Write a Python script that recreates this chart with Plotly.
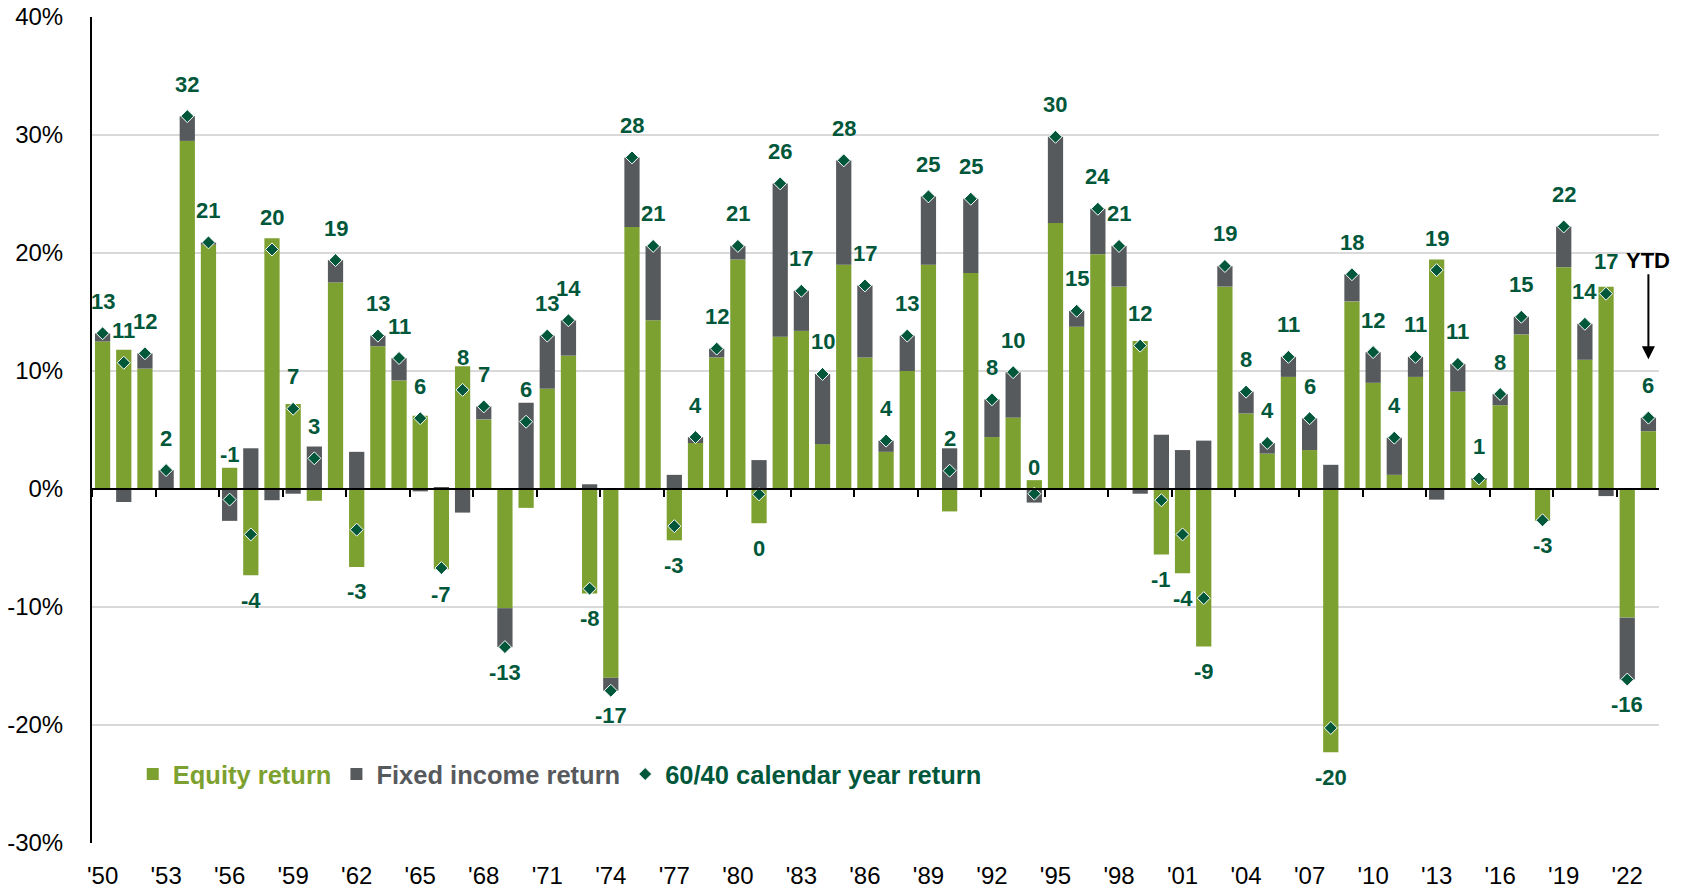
import plotly.graph_objects as go

# ---------------- data ----------------
years = list(range(1950, 2024))

equity_contrib = [
    12.5, 11.8, 10.2, 0.0, 29.5, 20.7, 1.8, -7.3, 21.25, 7.2,
    -1.0, 17.5, -6.6, 12.1, 9.2, 6.2, -6.8, 10.4, 5.9, -10.1,
    -1.6, 8.5, 11.3, -8.85, -16.0, 22.2, 14.3, -4.35, 3.9, 11.15,
    19.45, -2.9, 12.9, 13.4, 3.8, 19.0, 11.15, 3.15, 10.0, 19.0,
    -1.9, 18.3, 4.4, 6.05, 0.75, 22.55, 13.75, 19.9, 17.15, 12.55,
    -5.55, -7.15, -13.35, 17.15, 6.4, 3.0, 9.5, 3.3, -22.3, 15.9,
    9.0, 1.2, 9.5, 19.45, 8.25, 0.8, 7.1, 13.1, -2.7, 18.8,
    10.95, 17.15, -10.9, 4.9,
]

fixed_income_contrib = [
    0.7, -1.1, 1.3, 1.6, 2.1, 0.2, -2.7, 3.45, -0.95, -0.4,
    3.6, 1.9, 3.15, 0.9, 1.9, -0.2, 0.1, -2.0, 1.1, -3.3,
    7.3, 4.5, 3.0, 0.4, -1.1, 5.9, 6.3, 1.2, 0.5, 0.75,
    1.15, 2.45, 13.0, 3.4, 5.95, 8.85, 6.1, 0.95, 3.0, 5.8,
    3.45, 6.3, 3.2, 3.85, -1.15, 7.3, 1.35, 3.85, 3.45, -0.4,
    4.6, 3.3, 4.1, 1.75, 1.85, 0.9, 1.7, 2.7, 2.05, 2.3,
    2.6, 3.15, 1.7, -0.9, 2.35, 0.1, 0.95, 1.5, 0.05, 3.45,
    3.05, -0.6, -5.25, 1.15,
]

portfolio_6040 = [
    13.2, 10.7, 11.5, 1.6, 31.6, 20.9, -0.9, -3.85, 20.3, 6.8,
    2.6, 19.4, -3.45, 13.0, 11.1, 6.0, -6.7, 8.4, 7.0, -13.4,
    5.7, 13.0, 14.3, -8.45, -17.1, 28.1, 20.6, -3.15, 4.4, 11.9,
    20.6, -0.45, 25.9, 16.8, 9.75, 27.85, 17.25, 4.1, 13.0, 24.8,
    1.55, 24.6, 7.6, 9.9, -0.4, 29.85, 15.1, 23.75, 20.6, 12.15,
    -0.95, -3.85, -9.25, 18.9, 8.25, 3.9, 11.2, 6.0, -20.25, 18.2,
    11.6, 4.35, 11.2, 18.55, 10.6, 0.9, 8.05, 14.6, -2.65, 22.25,
    14.0, 16.55, -16.15, 6.05,
]

tick_years = years[:-1:3]                      # 1950, 1953, ... 2022
tick_labels = ["'" + str(y)[2:] for y in tick_years]
y_ticks = [-30, -20, -10, 0, 10, 20, 30, 40]
y_tick_labels = [f"{v}%" for v in y_ticks]
ytd_year = 2023

# ---------------- styling ----------------
GREEN = "#7DA130"
GRAY = "#575A5D"
DARK_GREEN = "#00573A"
FONT = "Arial, Liberation Sans, sans-serif"
labels_above_bar = {1956, 1994}   # small negative years labelled above the bars

fig = go.Figure()

fig.add_trace(go.Bar(
    x=years, y=equity_contrib,
    name=f"<span style='color:{GREEN}'>Equity return</span>",
    marker=dict(color=GREEN, line=dict(width=0)),
))
fig.add_trace(go.Bar(
    x=years, y=fixed_income_contrib,
    name=f"<span style='color:{GRAY}'>Fixed income return</span>",
    marker=dict(color=GRAY, line=dict(width=0)),
))
fig.add_trace(go.Scatter(
    x=years, y=portfolio_6040, mode="markers",
    name=f"<span style='color:{DARK_GREEN}'>60/40 calendar year return</span>",
    marker=dict(symbol="diamond", size=10, color=DARK_GREEN,
                line=dict(color="white", width=1)),
))
# invisible trace to carry the zero-line axis
fig.add_trace(go.Scatter(x=[years[0]], y=[None], xaxis="x2", yaxis="y",
                         showlegend=False, hoverinfo="skip"))

annotations = []
for yr, e, f, p in zip(years, equity_contrib, fixed_income_contrib, portfolio_6040):
    txt = str(int(round(p)))
    if yr in labels_above_bar:
        top = max(e, 0) + max(f, 0)
        y, shift = top, 13
    elif p >= 0:
        y, shift = p, 32
    else:
        bottom = min(min(e, 0) + min(f, 0), p)
        y, shift = bottom, -25
    annotations.append(dict(
        x=yr, y=y, xref="x", yref="y", text=txt, showarrow=False,
        yshift=shift, yanchor="middle", xanchor="center",
        font=dict(family=FONT, size=22, color=DARK_GREEN, weight="bold"),
    ))

annotations.append(dict(
    x=ytd_year, y=11.0, xref="x", yref="y", text="YTD",
    showarrow=True, ax=0, ay=-99, arrowhead=2, arrowsize=1.3, arrowwidth=2,
    arrowcolor="black",
    font=dict(family=FONT, size=22, color="black", weight="bold"),
))

fig.update_layout(
    width=1693, height=889,
    margin=dict(l=92, r=34, t=17, b=46, autoexpand=False),
    paper_bgcolor="white", plot_bgcolor="white",
    barmode="relative", bargap=0.28,
    font=dict(family=FONT, size=24, color="black"),
    showlegend=True,
    legend=dict(
        orientation="h", x=0.026, y=0.083, xanchor="left", yanchor="middle",
        font=dict(family=FONT, size=25.5, weight="bold"),
        bgcolor="rgba(0,0,0,0)", itemwidth=30, traceorder="normal",
    ),
    xaxis=dict(
        range=[1949.5, 2023.5], tickmode="array", tickvals=tick_years,
        ticktext=tick_labels, showgrid=False, showline=False, zeroline=False,
        ticks="", tickfont=dict(family=FONT, size=24, color="black"),
        ticklabelstandoff=16, automargin=False,
    ),
    xaxis2=dict(
        overlaying="x", anchor="free", position=30 / 70, side="bottom",
        range=[1949.5, 2023.5], tickmode="array",
        tickvals=[y - 0.5 for y in tick_years],
        showticklabels=False, showgrid=False, zeroline=False,
        showline=True, linecolor="black", linewidth=2,
        ticks="outside", ticklen=7, tickwidth=2, tickcolor="black",
        automargin=False,
    ),
    yaxis=dict(
        range=[-30, 40], tickmode="array", tickvals=y_ticks,
        ticktext=y_tick_labels,
        showgrid=True, gridcolor="#D9D9D9", gridwidth=1.5,
        zeroline=False, showline=True, linecolor="black", linewidth=2,
        ticks="", tickfont=dict(family=FONT, size=24, color="black"),
        ticklabelstandoff=22, automargin=False,
    ),
    annotations=annotations,
)

fig.write_html("out.html", config={"displayModeBar": False},
               post_script="document.body.style.margin='0';")
